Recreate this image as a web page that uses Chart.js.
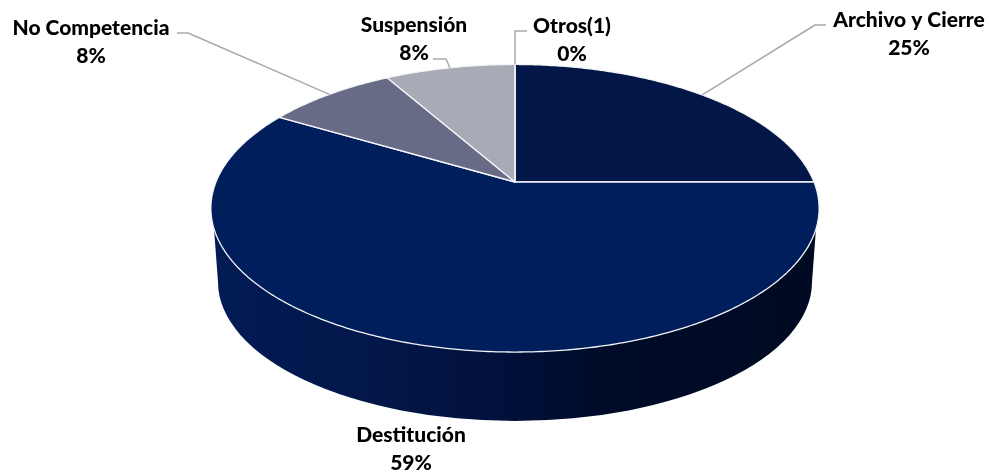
<!DOCTYPE html>
<html>
<head>
<meta charset="utf-8">
<title>Pie</title>
<script src="https://cdn.jsdelivr.net/npm/chart.js@4"></script>
<style>
  html, body { margin: 0; padding: 0; background: #fff; }
  canvas { display: block; }
</style>
</head>
<body>
<canvas id="pie" width="989" height="473"></canvas>
<script>
const categories = ['Archivo y Cierre', 'Destitución', 'No Competencia', 'Suspensión', 'Otros(1)'];
const sliceValues = [25, 58.5, 8.25, 8.25, 0];
const percentLabels = ['25%', '59%', '8%', '8%', '0%'];
const sliceColors = ['#021748', '#001d5c', '#676b85', '#a8aab5', '#a8aab5'];

// where the pie sits on the page, tilted with some perspective
const cx = 515, cy = 182, spanX = 299, spanY = 139, tilt = 0.1826;

// bottom rim of the disc
const rim = { y: 282, rx: 297, ry: 139 };
const sideTopY = 228;

// label text centre, and leader line bend (none for Destitución)
const labelSpots = [
  { x: 909, y: 20, bend: [[815, 25], [826, 25]] },
  { x: 411, y: 435 },
  { x: 91, y: 28, bend: [[188, 33], [177, 33]] },
  { x: 414, y: 25, bend: [[446, 59], [433, 59]] },
  { x: 572, y: 26, bend: [[515, 31], [527, 31]] }
];

function project(angle) {
  const u = Math.cos(angle), v = Math.sin(angle);
  const w = 1 - tilt * v;
  return [cx + spanX * u / w, cy + spanY * v / w];
}

function topEdgeX(y, side) {
  // x on the top ellipse at a given y
  const t = (y - 208) / 144;
  return 515 + side * 304 * Math.sqrt(1 - t * t);
}

const pie3d = {
  id: 'pie3d',
  beforeDatasetsDraw(chart) {
    const ctx = chart.ctx;
    const arcs = chart.getDatasetMeta(0).data;

    // side wall
    const grad = ctx.createLinearGradient(215, 0, 815, 0);
    grad.addColorStop(0, '#021b54');
    grad.addColorStop(0.25, '#02174a');
    grad.addColorStop(0.5, '#011039');
    grad.addColorStop(0.65, '#000b28');
    grad.addColorStop(1, '#000a22');
    ctx.save();
    ctx.beginPath();
    ctx.moveTo(topEdgeX(sideTopY, -1), sideTopY);
    ctx.ellipse(cx, rim.y, rim.rx, rim.ry, 0, Math.PI, 0, true);
    ctx.lineTo(topEdgeX(sideTopY, 1), sideTopY);
    ctx.closePath();
    ctx.fillStyle = grad;
    ctx.fill();

    // top face, one path per slice from the angles the library worked out
    arcs.forEach(arc => {
      const { startAngle, endAngle } = arc.getProps(['startAngle', 'endAngle'], true);
      ctx.beginPath();
      ctx.moveTo(cx, cy);
      const steps = Math.max(1, Math.ceil((endAngle - startAngle) * 90));
      for (let i = 0; i <= steps; i++) {
        const p = project(startAngle + (endAngle - startAngle) * i / steps);
        ctx.lineTo(p[0], p[1]);
      }
      ctx.closePath();
      ctx.fillStyle = arc.options.backgroundColor;
      ctx.fill();
      ctx.strokeStyle = arc.options.borderColor;
      ctx.lineWidth = arc.options.borderWidth;
      ctx.lineJoin = 'round';
      ctx.stroke();
    });

    // leader lines
    ctx.strokeStyle = '#a9a9a9';
    ctx.lineWidth = 1.5;
    arcs.forEach((arc, i) => {
      const spot = labelSpots[i];
      if (!spot.bend) return;
      const { startAngle, endAngle } = arc.getProps(['startAngle', 'endAngle'], true);
      const p = project((startAngle + endAngle) / 2);
      ctx.beginPath();
      ctx.moveTo(p[0], p[1]);
      spot.bend.forEach(b => ctx.lineTo(b[0], b[1]));
      ctx.stroke();
    });

    // labels
    ctx.fillStyle = '#000';
    ctx.font = '900 21px Lato';
    ctx.textAlign = 'center';
    ctx.textBaseline = 'middle';
    categories.forEach((name, i) => {
      ctx.fillText(name, labelSpots[i].x, labelSpots[i].y);
      ctx.fillText(percentLabels[i], labelSpots[i].x, labelSpots[i].y + 28);
    });
    ctx.restore();
    return false;
  }
};

new Chart(document.getElementById('pie').getContext('2d'), {
  type: 'pie',
  data: {
    labels: categories,
    datasets: [{
      data: sliceValues,
      backgroundColor: sliceColors,
      borderColor: '#f4f5f8',
      borderWidth: 1.3
    }]
  },
  options: {
    responsive: false,
    animation: false,
    events: [],
    plugins: { legend: { display: false }, tooltip: { enabled: false } }
  },
  plugins: [pie3d]
});
</script>
</body>
</html>
